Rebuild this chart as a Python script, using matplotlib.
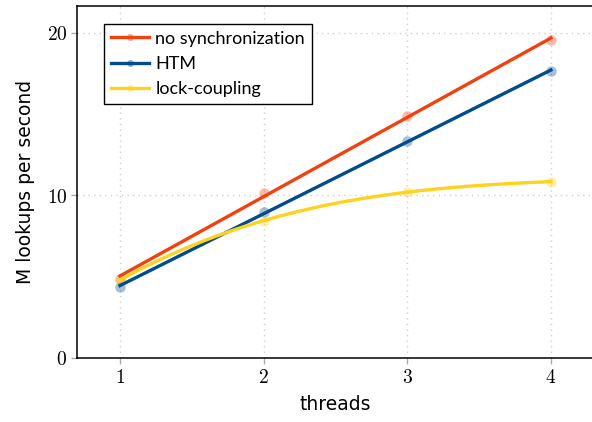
import numpy as np
import matplotlib
matplotlib.use("Agg")
import matplotlib.pyplot as plt

threads = [1, 2, 3, 4]
no_sync = [4.86, 10.15, 14.91, 19.53]
htm = [4.37, 8.97, 13.35, 17.64]
lock_coupling = [4.80, 8.45, 10.20, 10.85]

series = [
    ("no synchronization", no_sync, "#F0410F", 1),
    ("HTM", htm, "#004C8C", 1),
    ("lock-coupling", lock_coupling, "#FFD21E", 3),
]

plt.rcParams['mathtext.fontset'] = 'cm'
plt.rcParams['font.family'] = ['DejaVu Sans']

fig = plt.figure(figsize=(5.92, 4.22), dpi=100)
ax = fig.add_axes([0.130, 0.1517, 0.8734, 0.8341])

xs = np.array(threads, dtype=float)
xf = np.linspace(1, 4, 200)
for label, ys, color, deg in series:
    coef = np.polyfit(xs, ys, deg)
    ax.plot(xs, ys, 'o', color=color, alpha=0.35, markersize=7.5, markeredgewidth=0, zorder=2)
    ax.plot(xf, np.polyval(coef, xf), '-', color=color, lw=2.4, zorder=3)
    ax.plot([], [], '-', color=color, lw=2.4, marker='o', markersize=5,
            markerfacecolor=matplotlib.colors.to_rgba(color, 0.45),
            markeredgewidth=0, label=label)

ax.set_xlim(0.7, 4.3)
ax.set_ylim(0, 21.65)
ax.set_xticks(threads)
ax.set_xticklabels([f"${t}$" for t in threads])
ax.set_yticks([0, 10, 20])
ax.set_yticklabels(["$0$", "$10$", "$20$"])
ax.tick_params(axis='both', direction='out', length=4, width=1, color='#aaaaaa', labelsize=14, pad=3)
ax.grid(True, linestyle=(0, (1, 3)), color='#d0d0d0', lw=1)
for s in ax.spines.values():
    s.set_linewidth(1.1)
    s.set_color('black')

ax.set_xlabel("threads", fontsize=13.5, labelpad=6)
ax.set_ylabel("M lookups per second", fontsize=13.5, labelpad=8)

leg = ax.legend(loc='upper left', bbox_to_anchor=(0.052, 0.95), prop={'family': 'Lato', 'size': 13},
                frameon=True, fancybox=False, edgecolor='black', framealpha=1,
                handlelength=2.1, handletextpad=0.35, borderpad=0.4, labelspacing=0.5,
                borderaxespad=0)
leg.get_frame().set_linewidth(1.0)

fig.savefig("out.png", dpi=100)
